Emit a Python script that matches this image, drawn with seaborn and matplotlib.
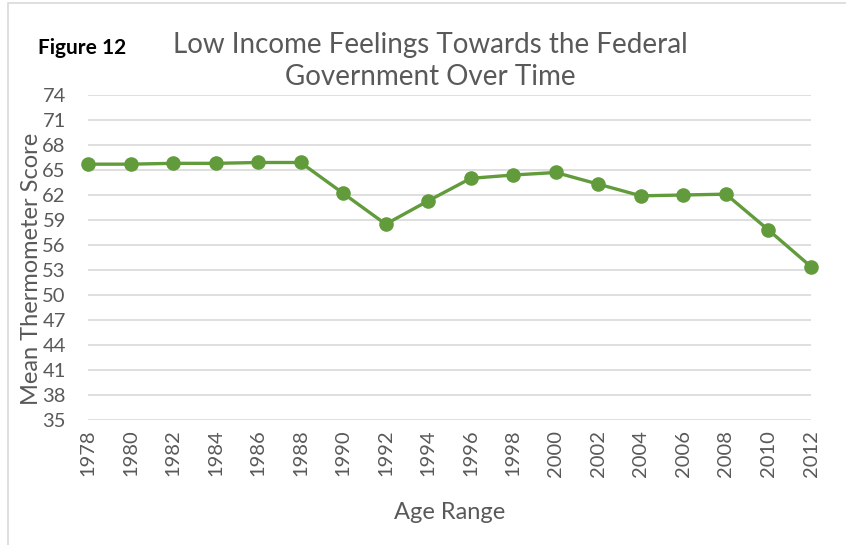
import matplotlib
matplotlib.use("Agg")
import matplotlib.pyplot as plt
import seaborn as sns
import pandas as pd
from matplotlib.patches import Rectangle

# --- Datos ---
years = [1978, 1980, 1982, 1984, 1986, 1988, 1990, 1992, 1994, 1996,
         1998, 2000, 2002, 2004, 2006, 2008, 2010, 2012]
scores = [65.7, 65.7, 65.8, 65.8, 65.9, 65.9, 62.2, 58.5, 61.3, 64.0,
          64.4, 64.7, 63.3, 61.9, 62.0, 62.1, 57.8, 53.4]
y_ticks = [35, 38, 41, 44, 47, 50, 53, 56, 59, 62, 65, 68, 71, 74]

df = pd.DataFrame({"year": years, "score": scores})

GREEN = "#629B3C"
GRAY = "#595959"

sns.set_theme(style="white")
plt.rcParams['font.family'] = ['Lato', 'DejaVu Sans']

fig = plt.figure(figsize=(8.46, 5.45), dpi=100)
ax = fig.add_axes([88 / 846, 1 - 420 / 545, (811 - 88) / 846, (420 - 95) / 545])

sns.lineplot(data=df, x="year", y="score", ax=ax, color=GREEN, linewidth=2.4,
             marker="o", markersize=10.5, markeredgewidth=0, zorder=3, clip_on=False)

ax.set_xlim(years[0], years[-1])
ax.set_ylim(y_ticks[0], y_ticks[-1])
ax.set_yticks(y_ticks)
ax.set_xticks(years)
ax.set_xticklabels([str(y) for y in years], rotation=90, fontsize=14.5, color=GRAY)
ax.set_yticklabels([str(v) for v in y_ticks], fontsize=14.5, color=GRAY)
ax.tick_params(axis="x", length=0, pad=7)
ax.tick_params(axis="y", length=0, pad=16)
ax.grid(axis="y", color="#D9D9D9", linewidth=1.2)
ax.set_axisbelow(True)
for s in ax.spines.values():
    s.set_visible(False)

ax.set_xlabel("Age Range", fontsize=17, color=GRAY, labelpad=18)
ax.set_ylabel("Mean Thermometer Score", fontsize=17, color=GRAY)
ax.yaxis.set_label_coords(-0.064, 0.465)

fig.text(430 / 846, 1 - 61 / 545, "Low Income Feelings Towards the Federal\nGovernment Over Time",
         ha="center", va="center", fontsize=20, color=GRAY, linespacing=1.3)
fig.text(38 / 846, 1 - 48 / 545, "Figure 12", ha="left", va="center",
         fontsize=15, fontweight="bold", color="black")

# borde del gráfico
fig.patches.append(Rectangle((8 / 846, -0.01), 1.0, 1 - 3 / 545 + 0.01, transform=fig.transFigure,
                             fill=False, edgecolor="#D9D9D9", linewidth=1.2))

fig.savefig("out.png", dpi=100)
